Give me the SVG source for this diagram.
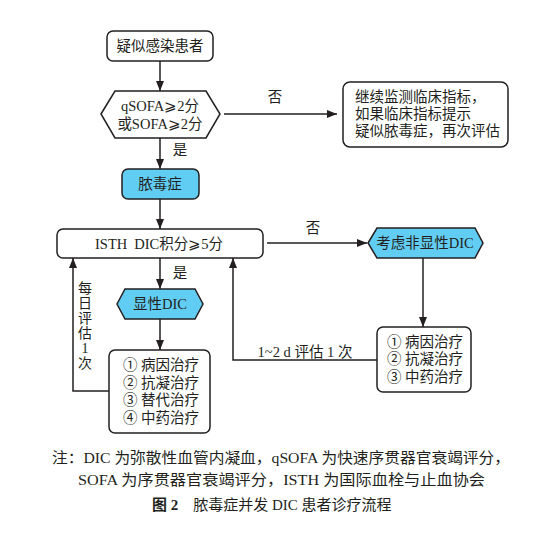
<svg xmlns="http://www.w3.org/2000/svg" width="536" height="539" viewBox="0 0 536 539">
<defs>
<marker id="ah" markerUnits="userSpaceOnUse" markerWidth="10" markerHeight="10" refX="10" refY="4" orient="auto">
<path d="M0,0 L10,4 L0,8 Z" fill="#231f20"/>
</marker>
<style>
.box{fill:#fff;stroke:#231f20;stroke-width:1.5}
.blue{fill:#62cdf3;stroke:#231f20;stroke-width:1.5}
.ln{fill:none;stroke:#231f20;stroke-width:1.5}
.arr{marker-end:url(#ah)}
text{font-family:"Liberation Serif","DejaVu Serif","Noto Sans CJK SC",serif;font-size:14.5px;fill:#231f20}
.c{text-anchor:middle;dominant-baseline:central}
.l{dominant-baseline:central}
.v{font-size:14px}
.cap{font-size:15px}
.b{font-weight:bold}
</style>
</defs>
<rect width="536" height="539" fill="#fff"/>
<g id="connectors">
<line class="ln arr" x1="160" y1="61" x2="160" y2="91"/>
<line class="ln arr" x1="160" y1="138" x2="160" y2="169"/>
<line class="ln arr" x1="160" y1="199" x2="160" y2="229"/>
<line class="ln arr" x1="224" y1="114" x2="337" y2="114"/>
<text class="c" x="275" y="97">否</text>
<text class="c" x="180" y="150">是</text>
<line class="ln arr" x1="267" y1="243" x2="367" y2="243"/>
<text class="c" x="313" y="228">否</text>
<line class="ln arr" x1="160" y1="258" x2="160" y2="289"/>
<text class="c" x="180" y="273">是</text>
<line class="ln arr" x1="160" y1="319" x2="160" y2="350"/>
<line class="ln arr" x1="423" y1="258" x2="423" y2="327"/>
<polyline class="ln arr" points="377,360 233,360 233,258"/>
<text class="c" x="305" y="352">1~2 d 评估 1 次</text>
<polyline class="ln arr" points="109,391 73,391 73,258"/>
<g id="label-daily">
<text class="c v" x="85" y="288">每</text>
<text class="c v" x="85" y="303">日</text>
<text class="c v" x="85" y="318">评</text>
<text class="c v" x="85" y="333">估</text>
<text class="c v" x="85" y="348">1</text>
<text class="c v" x="85" y="363">次</text>
</g>
</g>
<g id="n-suspect">
<rect class="box" x="107" y="31" width="106" height="30" rx="6"/>
<text class="c" x="160" y="46">疑似感染患者</text>
</g>
<g id="n-sofa">
<polygon class="box" points="101,114 115,91 206,91 220,114 206,138 115,138"/>
<text class="c" x="160" y="106">qSOFA⩾2分</text>
<text class="c" x="160" y="124">或SOFA⩾2分</text>
</g>
<g id="n-monitor">
<rect class="box" x="343" y="82" width="165" height="65" rx="7"/>
<text class="l" x="355" y="97">继续监测临床指标，</text>
<text class="l" x="355" y="114">如果临床指标提示</text>
<text class="l" x="355" y="131">疑似脓毒症，再次评估</text>
</g>
<g id="n-sepsis">
<rect class="blue" x="122" y="169" width="77" height="30" rx="6"/>
<text class="c" x="160" y="184">脓毒症</text>
</g>
<g id="n-isth">
<rect class="box" x="57" y="229" width="206" height="29" rx="6"/>
<text class="c" x="159" y="244">ISTH<tspan dx="7">DIC积分⩾5分</tspan></text>
</g>
<g id="n-nonovert">
<polygon class="blue" points="368,243 377,228 475,228 483,243 475,258 377,258"/>
<text class="c" x="425" y="243">考虑非显性DIC</text>
</g>
<g id="n-overt">
<polygon class="blue" points="117,304 125,289 195,289 203,304 195,319 125,319"/>
<text class="c" x="160" y="304">显性DIC</text>
</g>
<g id="n-treat1">
<rect class="box" x="109" y="350" width="101" height="83" rx="6"/>
<text class="l" x="123" y="365">① 病因治疗</text>
<text class="l" x="123" y="383">② 抗凝治疗</text>
<text class="l" x="123" y="400">③ 替代治疗</text>
<text class="l" x="123" y="418">④ 中药治疗</text>
</g>
<g id="n-treat2">
<rect class="box" x="377" y="327" width="94" height="65" rx="6"/>
<text class="l" x="387" y="342">① 病因治疗</text>
<text class="l" x="387" y="359">② 抗凝治疗</text>
<text class="l" x="387" y="377">③ 中药治疗</text>
</g>
<g id="caption">
<text class="l cap" x="52" y="458" textLength="458" lengthAdjust="spacingAndGlyphs">注：DIC 为弥散性血管内凝血，qSOFA 为快速序贯器官衰竭评分，</text>
<text class="l cap" x="78" y="480" textLength="407" lengthAdjust="spacingAndGlyphs">SOFA 为序贯器官衰竭评分，ISTH 为国际血栓与止血协会</text>
<text class="l cap" x="152" y="505"><tspan class="b">图 2</tspan>　脓毒症并发 DIC 患者诊疗流程</text>
</g>
</svg>
